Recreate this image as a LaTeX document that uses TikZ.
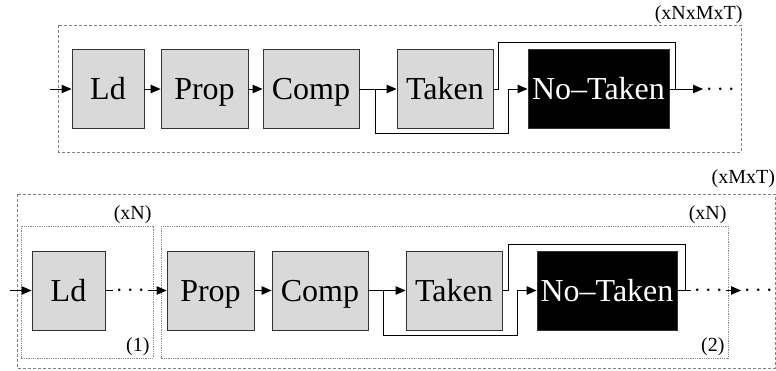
\documentclass[tikz,border=0pt]{standalone}
\usepackage{fontspec}
\setmainfont{Liberation Serif}
\usetikzlibrary{arrows.meta}

\tikzset{
  stage/.style={draw=black!80, line width=0.9pt, fill=black!15, minimum height=79pt,
    inner sep=0pt, text height=29pt, text depth=7pt, font=\fontsize{32}{36}\selectfont},
  hot/.style={stage, fill=black, text=white},
  flow/.style={-{Triangle[length=10pt,width=8.5pt]}},
  repbox/.style={draw=black!50, line width=0.8pt, dash pattern=on 3pt off 2pt},
  subbox/.style={draw=black!45, line width=0.8pt, dash pattern=on 1pt off 0.8pt},
  iter/.style={inner sep=0pt, anchor=base east, font=\fontsize{20}{24}\selectfont},
  more/.style={inner xsep=2.4pt, inner ysep=0pt, anchor=base west, font=\fontsize{26}{30}\selectfont},
}

\begin{document}
\begin{tikzpicture}[x=1pt, y=-1pt, line width=0.9pt]
  \useasboundingbox (0,0) rectangle (776,371);

  % one loop: N x M x T
  \draw[repbox] (58,25.5) rectangle (741,152);
  \node[iter] (cntA) at (743,19.5) {(xNxMxT)};

  \node[stage, minimum width=72pt] (ldA) at (108,89) {Ld};
  \node[stage, minimum width=87pt] (prA) at (204.5,89) {Prop};
  \node[stage, minimum width=96pt] (cpA) at (311,89) {Comp};
  \node[stage, minimum width=96pt] (tkA) at (445,89) {Taken};
  \node[hot, minimum width=141pt] (ntA) at (598.5,89) {No--Taken};
  \node[more] (dotsA) at (703,95.5) {$\cdots$};

  \coordinate (inA) at (50,89);
  \coordinate (splitA) at (375,89);
  \coordinate (lowA) at (508.3,133.3);
  \coordinate (bendA) at (498.3,42.7);
  \coordinate (mergeA) at (675.7,89);

  \draw[flow] (inA) -- (ldA);
  \draw[flow] (ldA) -- (prA);
  \draw[flow] (prA) -- (cpA);
  \draw[flow] (cpA) -- (tkA);
  \draw[flow] (splitA) |- (lowA) |- (ntA.west);
  \draw (tkA.east) -| (bendA) -| (mergeA);
  \draw[flow] (ntA.east) -- (ntA.east -| dotsA.west);

  % split loops: (1) x N, (2) x N, all x M x T
  \draw[repbox] (17,194) rectangle (775,368);
  \draw[subbox] (21,226) rectangle (153,358);
  \draw[subbox] (161,226) rectangle (728,358);
  \node[iter] (cntB) at (775.5,184) {(xMxT)};
  \node[iter] (cntB1) at (152,219.5) {(xN)};
  \node[iter] (cntB2) at (727,219.5) {(xN)};
  \node[iter] (numB1) at (150,351.5) {(1)};
  \node[iter] (numB2) at (725,351.5) {(2)};

  \node[stage, minimum width=73pt] (ldB) at (68.5,290.5) {Ld};
  \node[stage, minimum width=87pt] (prB) at (210.5,290.5) {Prop};
  \node[stage, minimum width=96pt] (cpB) at (320,290.5) {Comp};
  \node[stage, minimum width=96pt] (tkB) at (454,290.5) {Taken};
  \node[hot, minimum width=140pt] (ntB) at (607,290.5) {No--Taken};
  \node[more] (dotsB0) at (113,297) {$\cdots$};
  \node[more] (dotsB1) at (691,297) {$\cdots$};
  \node[more] (dotsB2) at (741,297) {$\cdots$};

  \coordinate (inB) at (10,290.5);
  \coordinate (splitB) at (383.3,290.5);
  \coordinate (lowB) at (517.3,335);
  \coordinate (bendB) at (508.3,244);
  \coordinate (mergeB) at (685,290.5);

  \draw[flow] (inB) -- (ldB);
  \draw (ldB.east) -- (ldB.east -| dotsB0.west);
  \draw[flow] (ldB.east -| dotsB0.east) -- (prB);
  \draw[flow] (prB) -- (cpB);
  \draw[flow] (cpB) -- (tkB);
  \draw[flow] (splitB) |- (lowB) |- (ntB.west);
  \draw (tkB.east) -| (bendB) -| (mergeB);
  \draw (ntB.east) -- (ntB.east -| dotsB1.west);
  \draw[flow] (ntB.east -| dotsB1.east) -- (ntB.east -| dotsB2.west);
\end{tikzpicture}
\end{document}
